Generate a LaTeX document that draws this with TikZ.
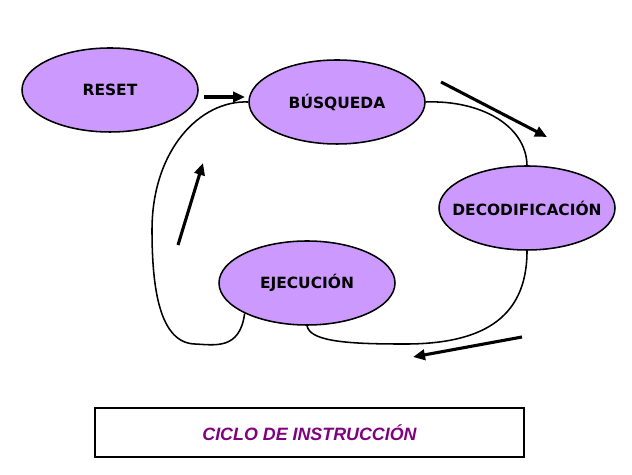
\documentclass[tikz,border=0pt]{standalone}
\usepackage{fontspec}
\setmainfont{Liberation Sans}
\newfontfamily\statefont{DejaVu Sans}
\usetikzlibrary{arrows.meta,shapes.geometric}
\definecolor{stateFill}{HTML}{CC99FF}
\definecolor{titlePurple}{HTML}{800080}

\begin{document}
\begin{tikzpicture}[
 state/.style={ellipse, draw=black, line width=1.1pt, fill=stateFill, minimum width=4.4cm, minimum height=2.1cm, inner xsep=-0.35cm, inner ysep=0pt, font=\statefont\bfseries\fontsize{11}{12}\selectfont},
 link/.style={black, line width=1.1pt},
 flow/.style={-{Triangle[length=3mm,width=2.6mm]}, line width=2.2pt, black},
]
 \useasboundingbox (0,0) rectangle (15.8,11.875);
 % the four states of the cycle
 \node[state] (reset) at (2.75,9.625) {RESET};
 \node[state] (busq) at (8.425,9.325) {BÚSQUEDA};
 \node[state] (decod) at (13.175,6.675) {DECODIFICACIÓN};
 \node[state] (ejec) at (7.675,4.8) {EJECUCIÓN};
 % thin connectors between the states
 \draw[link] (busq.east) .. controls (12.0,9.375) and (13.15,8.75) .. (decod.north);
 \draw[link] (decod.south) .. controls (13.175,3.875) and (12.0,3.25) .. (10.0,3.275)
   .. controls (8.5,3.275) and (7.75,3.375) .. (ejec.south);
 \draw[link] (ejec.206) .. controls (6.0,3.125) and (5.375,3.25) .. (4.875,3.275)
   .. controls (4.0,3.3) and (3.8,4.625) .. (3.8,6.125)
   .. controls (3.8,8.125) and (5.0,9.375) .. (busq.west);
 % direction arrows (free-standing)
 \coordinate (r0) at (5.1,9.45);     \coordinate (r1) at (6.125,9.45);
 \coordinate (d0) at (11.025,9.825); \coordinate (d1) at (13.675,8.45);
 \coordinate (e0) at (13.05,3.45);   \coordinate (e1) at (10.325,2.95);
 \coordinate (b0) at (4.45,5.75);    \coordinate (b1) at (5.075,7.8);
 \foreach \a/\b in {r0/r1, d0/d1, e0/e1, b0/b1}{\draw[flow] (\a) -- (\b);}
 % caption box
 \node[draw=black, line width=0.8pt, minimum width=10.725cm, minimum height=1.225cm, inner sep=0pt,
   font=\bfseries\itshape\fontsize{12.7}{14}\selectfont, text=titlePurple] (title) at (7.7375,1.0625) {CICLO DE INSTRUCCIÓN};
\end{tikzpicture}
\end{document}
